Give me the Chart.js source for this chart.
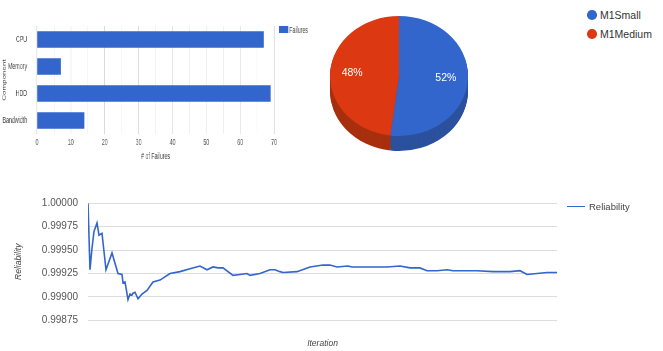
<!DOCTYPE html>
<html>
<head>
<meta charset="utf-8">
<title>Failures, machine share and reliability</title>
<script src="https://cdn.jsdelivr.net/npm/chart.js@4.4.1/dist/chart.umd.min.js"></script>
<style>
  html, body { margin: 0; padding: 0; background: #fff; }
  body { width: 663px; height: 351px; position: relative; overflow: hidden;
         font-family: Arial, "Liberation Sans", sans-serif; }
  #barWrap { position: absolute; left: 0; top: 0; width: 516px; height: 170px;
             transform: scaleX(0.62); transform-origin: 0 0; }
  #barWrap canvas { position: absolute; left: 0; top: 0; }
  .barLegend { position: absolute; left: 450px; top: 24px; height: 13px; line-height: 13px;
               font-size: 8.5px; color: #444; white-space: nowrap; }
  .barLegend i { display: inline-block; width: 14.5px; height: 7px; vertical-align: middle;
                 margin: -2px 2px 0 0; }
  #pie { position: absolute; left: 330px; top: 7px; }
  .pieLegend { position: absolute; left: 587px; height: 14px; line-height: 14px;
               font-size: 10.5px; color: #333; white-space: nowrap; }
  .pieLegend i { display: inline-block; width: 9.5px; height: 9.5px; border-radius: 50%;
                 vertical-align: middle; margin: -2px 3.5px 0 0; }
  #line { position: absolute; left: 0; top: 180px; }
  .lineLegend { position: absolute; left: 567px; top: 200px; height: 14px; line-height: 14px;
                font-size: 9.5px; color: #444; white-space: nowrap; }
  .lineLegend i { display: inline-block; width: 18px; height: 0; border-top: 1.6px solid;
                  vertical-align: middle; margin: -1px 4px 0 0; }
</style>
</head>
<body>
<div id="barWrap">
  <canvas id="bar" width="516" height="170"></canvas>
  <div id="barLegend"></div>
</div>
<canvas id="pie" width="138" height="160"></canvas>
<div id="pieLegend"></div>
<canvas id="line" width="663" height="171"></canvas>
<div id="lineLegend"></div>

<script>
// ---- failures per component ----
const components = ['CPU', 'Memory', 'HDD', 'Bandwidth'];
const failures = [67, 7, 69, 14];

// ---- share of runs per machine type ----
const machines = ['M1Small', 'M1Medium'];
const machineShare = [52, 48];

// ---- reliability over iterations ----
const iterations = [0, 2, 4, 6, 9, 11, 14, 18, 24, 27, 30, 34, 35, 37, 40, 42, 44, 45, 47, 50,
  54, 59, 65, 72, 82, 92, 102, 112, 119, 125, 130, 135, 145, 152, 159, 162, 172, 182, 187, 192,
  195, 209, 222, 235, 242, 249, 260, 264, 282, 299, 312, 322, 332, 339, 349, 359, 365, 389, 405, 422,
  432, 439, 449, 459, 469];
const reliability = [1.00000, 0.99929, 0.99952, 0.99970, 0.99979, 0.99966, 0.99968, 0.99929, 0.99947, 0.99936,
  0.99925, 0.99924, 0.99915, 0.99916, 0.99897, 0.99903, 0.99902, 0.99904, 0.99905, 0.99898,
  0.99903, 0.99907, 0.99916, 0.99918, 0.99925, 0.99927, 0.99930, 0.99933, 0.99929, 0.99932,
  0.99931, 0.99931, 0.99923, 0.99924, 0.99925, 0.99923, 0.99925, 0.99929, 0.99929, 0.99927,
  0.99926, 0.99927, 0.99932, 0.99934, 0.99934, 0.99932, 0.99933, 0.99932, 0.99932, 0.99932,
  0.99933, 0.99931, 0.99931, 0.99928, 0.99928, 0.99929, 0.99928, 0.99928, 0.99927, 0.99927,
  0.99928, 0.99924, 0.99925, 0.99926, 0.99926];
const reliabilityTicks = [0.99875, 0.99900, 0.99925, 0.99950, 0.99975, 1.00000];

const BLUE = '#3366cc';
const RED = '#dc3912';
const pieColors = [BLUE, RED];
const pieSideColors = ['#2b519e', '#a8300f'];

// ---------- horizontal bar chart ----------
new Chart(document.getElementById('bar'), {
  type: 'bar',
  data: {
    labels: components,
    datasets: [{ label: 'Failures', data: failures, backgroundColor: BLUE,
                 barPercentage: 0.61, categoryPercentage: 1 }]
  },
  options: {
    indexAxis: 'y', responsive: false, animation: false, events: [],
    layout: { padding: { top: 26, right: 74, left: 0, bottom: 0 } },
    plugins: { legend: { display: false }, tooltip: { enabled: false } },
    scales: {
      x: {
        min: 0, max: 70,
        grid: { drawTicks: false,
                color: c => c.tick.value === 0 ? '#b8b8b8' : (c.tick.value % 10 === 0 ? '#dadada' : '#efefef') },
        border: { display: false },
        ticks: { stepSize: 5, padding: 4, color: '#555', font: { size: 8.5 }, maxRotation: 0, autoSkip: false,
                 callback: v => (v % 10 === 0 ? String(v) : '') },
        title: { display: true, text: '# of Failures', color: '#444', font: { size: 8.5 },
                 padding: { top: 0, bottom: 8 } },
        afterFit: s => { s.height = 36; }
      },
      y: {
        grid: { display: false }, border: { display: false },
        ticks: { padding: 8, color: '#444', font: { size: 8.5 } },
        title: { display: true, text: 'Component', color: '#444', font: { size: 8 },
                 padding: { top: 2, bottom: 0 } },
        afterFit: s => { s.width = 59.7; }
      }
    }
  }
});
document.getElementById('barLegend').innerHTML =
  '<div class="barLegend"><i style="background:' + BLUE + '"></i>Failures</div>';

// ---------- tilted pie with a visible rim ----------
const tiltPlugin = {
  id: 'tilt',
  beforeDatasetsDraw(chart, args, opts) {
    const ctx = chart.ctx;
    const meta = chart.getDatasetMeta(0);
    const cx = meta.data[0].x, cy = meta.data[0].y;
    ctx.save();
    ctx.translate(cx, cy);
    ctx.scale(1, opts.squash);
    ctx.translate(-cx, -cy);
    const step = 1 / opts.squash;
    for (let d = opts.depth; d >= 1; d--) {
      ctx.save();
      ctx.translate(0, d * step);
      meta.data.forEach((arc, i) => {
        const base = arc.options;
        arc.options = Object.assign({}, base, { backgroundColor: opts.sideColors[i], borderColor: opts.sideColors[i] });
        arc.draw(ctx);
        arc.options = base;
      });
      ctx.restore();
    }
  },
  afterDatasetsDraw(chart, args, opts) {
    const ctx = chart.ctx;
    ctx.restore();
    const meta = chart.getDatasetMeta(0);
    const values = chart.data.datasets[0].data;
    const total = values.reduce((a, b) => a + b, 0);
    ctx.save();
    ctx.fillStyle = '#fff';
    ctx.font = '10.5px Arial, "Liberation Sans", sans-serif';
    ctx.textAlign = 'center';
    ctx.textBaseline = 'middle';
    meta.data.forEach((arc, i) => {
      const mid = (arc.startAngle + arc.endAngle) / 2;
      const r = arc.outerRadius * 0.68;
      const x = arc.x + Math.cos(mid) * r;
      const y = arc.y + Math.sin(mid) * r * opts.squash;
      ctx.fillText(Math.round(values[i] / total * 100) + '%', x, y);
    });
    ctx.restore();
  }
};

new Chart(document.getElementById('pie'), {
  type: 'pie',
  data: { labels: machines, datasets: [{ data: machineShare, backgroundColor: pieColors, borderWidth: 0 }] },
  options: {
    responsive: false, animation: false, events: [],
    layout: { padding: { bottom: 22 } },
    plugins: { legend: { display: false }, tooltip: { enabled: false },
               tilt: { squash: 0.87, depth: 15, sideColors: pieSideColors } }
  },
  plugins: [tiltPlugin]
});
document.getElementById('pieLegend').innerHTML = machines.map((m, i) =>
  '<div class="pieLegend" style="top:' + (8 + i * 18.6) + 'px"><i style="background:' + pieColors[i] + '"></i>' + m + '</div>'
).join('');

// ---------- reliability line ----------
new Chart(document.getElementById('line'), {
  type: 'line',
  data: {
    datasets: [{ label: 'Reliability', data: iterations.map((it, i) => ({ x: it, y: reliability[i] })),
                 borderColor: BLUE, borderWidth: 1.6, pointRadius: 0, tension: 0, fill: false }]
  },
  options: {
    responsive: false, animation: false, events: [],
    layout: { padding: { top: 23.3, right: 106, left: 0, bottom: 0 } },
    plugins: { legend: { display: false }, tooltip: { enabled: false } },
    scales: {
      x: {
        type: 'linear', min: 0, max: 469,
        grid: { display: false }, border: { display: false }, ticks: { display: false },
        title: { display: true, text: 'Iteration', color: '#444', font: { size: 8.5, style: 'italic' },
                 padding: { top: 0, bottom: 2 } },
        afterFit: s => { s.height = 30.7; }
      },
      y: {
        min: 0.99875, max: 1.0,
        afterBuildTicks: s => { s.ticks = reliabilityTicks.map(v => ({ value: v })); },
        grid: { color: '#dcdcdc', drawTicks: false }, border: { display: false },
        ticks: { padding: 10, color: '#555', font: { size: 10 }, callback: v => Number(v).toFixed(5) },
        title: { display: true, text: 'Reliability', color: '#444', font: { size: 8.5, style: 'italic' },
                 padding: { top: 14, bottom: 0 } },
        afterFit: s => { s.width = 88; }
      }
    }
  }
});
document.getElementById('lineLegend').innerHTML =
  '<div class="lineLegend"><i style="border-color:' + BLUE + '"></i>Reliability</div>';
</script>
</body>
</html>
